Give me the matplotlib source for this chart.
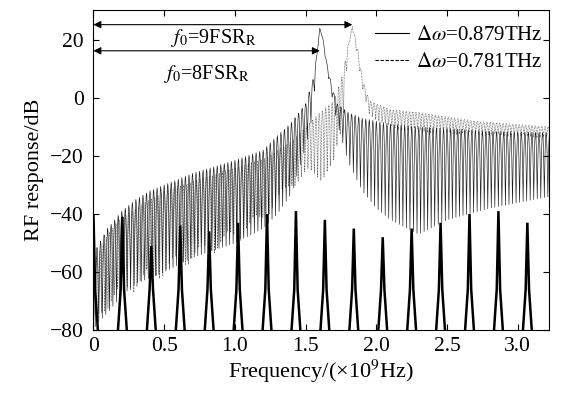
import numpy as np
import matplotlib
matplotlib.use('Agg')
import matplotlib.pyplot as plt
from matplotlib.lines import Line2D

plt.rcParams['font.family'] = ['Liberation Serif', 'DejaVu Serif']
plt.rcParams['mathtext.fontset'] = 'stix'

# envelope of the comb response, delta_omega = 0.879 THz (solid)
solid_f = [0.0, 0.02, 0.1, 0.2, 0.3, 0.4, 0.5, 0.7, 1.0, 1.2, 1.3, 1.4, 1.5, 1.55, 1.58, 1.6,
           1.62, 1.65, 1.68, 1.72, 1.8, 1.9, 2.0, 2.1, 2.3, 2.5, 2.8, 3.22]
solid_top = [-56, -52, -45, -39, -35, -32, -30, -26, -21.5, -18, -13, -8.5, -2, 6, 15, 24,
             21, 12, 5, -2, -5, -7, -8, -9, -10, -10.5, -11.5, -12]
solid_bot = [-80, -78, -74, -68, -64, -62, -60, -55, -50, -45, -40, -33, -17, -6, 14, 24,
             20, 10, 2, -8, -22, -32, -38, -42, -47, -42, -38, -34]

# envelope of the comb response, delta_omega = 0.781 THz (dotted)
dot_f = [0.0, 0.1, 0.2, 0.5, 1.0, 1.2, 1.4, 1.5, 1.6, 1.7, 1.76, 1.8, 1.83,
         1.86, 1.9, 1.95, 2.1, 2.3, 2.7, 3.22]
dot_top = [-57, -47, -41, -32, -24, -21, -15, -10, -5, -1, 8, 18, 24.5,
           19, 7, -1, -4, -5, -8, -10]
dot_bot = [-80, -73, -69, -62, -50, -43, -31, -28, -29, -26, -12, 16, 24.5,
           15, 3, -6, -11, -12, -13, -14]

solid_period = 0.025
dot_period = 0.0228

# narrow spikes at the FSR grid
spike_f = [0.0, 0.2045, 0.409, 0.6135, 0.818, 1.0225, 1.227, 1.4315,
           1.636, 1.8405, 2.045, 2.2495, 2.454, 2.6585, 2.863, 3.0675]
spike_top = [-40, -41, -51, -44, -46, -43, -40, -39,
             -42, -45, -48, -45, -43, -40, -39, -43]
spike_dx = [-0.034, -0.012, 0.0, 0.012, 0.034]
spike_lvl = [-82, -66, None, -66, -82]

arrow_ends = [1.83, 1.60]
arrow_y = [25.2, 16.2]

xticks = [0, 0.5, 1.0, 1.5, 2.0, 2.5, 3.0]
xticklabels = ['0', '0.5', '1.0', '1.5', '2.0', '2.5', '3.0']
yticks = [-80, -60, -40, -20, 0, 20]


def comb(fk, top, bot, period):
    f = np.arange(0, 3.225, 0.0025)
    up = np.interp(f, fk, top)
    lo = np.interp(f, fk, bot)
    ph = (f / period) % 1.0
    tri = np.abs(2 * ph - 1)
    return f, up - (up - lo) * (1 - tri) ** 2


fig = plt.figure(figsize=(5.63, 3.94), dpi=100)
ax = fig.add_axes([0.166, 0.162, 0.809, 0.813])

f1, y1 = comb(dot_f, dot_top, dot_bot, dot_period)
ax.plot(f1, y1, color='0.35', lw=0.55, ls=(0, (1, 1)))
f2, y2 = comb(solid_f, solid_top, solid_bot, solid_period)
ax.plot(f2, y2, color='0.1', lw=0.45)

for c, t in zip(spike_f, spike_top):
    xs = [c + d for d in spike_dx]
    ys = [t if v is None else v for v in spike_lvl]
    ax.plot(xs, ys, color='k', lw=1.8, solid_joinstyle='miter')

for xe, ya in zip(arrow_ends, arrow_y):
    ax.annotate('', xy=(0, ya), xytext=(xe, ya),
                arrowprops=dict(arrowstyle='<|-|>', color='k', lw=0.8,
                                shrinkA=0, shrinkB=0, mutation_scale=11))

ax.text(0.85, 20.6, r'$f_0$=9FSR$_\mathrm{R}$', fontsize=14.5, ha='center', va='center')
ax.text(0.80, 8.3, r'$f_0$=8FSR$_\mathrm{R}$', fontsize=14.5, ha='center', va='center')

handles = [Line2D([], [], color='k', lw=0.8),
           Line2D([], [], color='k', lw=0.8, ls=(0, (3, 1.5)))]
ax.legend(handles, [r'$\Delta\omega$=0.879THz', r'$\Delta\omega$=0.781THz'],
          loc='upper right', bbox_to_anchor=(0.995, 0.963), frameon=False,
          fontsize=15, handlelength=1.6, handletextpad=0.35, labelspacing=0.35,
          borderpad=0.1, borderaxespad=0.1)

ax.set_xlim(0, 3.22)
ax.set_ylim(-80, 30.3)
ax.set_xticks(xticks)
ax.set_xticklabels(xticklabels)
ax.set_yticks(yticks)
ax.tick_params(direction='in', top=True, right=True, labelsize=15.5, length=4, width=0.8)
ax.tick_params(axis='x', pad=5)
ax.tick_params(axis='y', pad=7)
for s in ax.spines.values():
    s.set_linewidth(0.8)

ax.set_xlabel(r'Frequency/(×10$^9$Hz)', fontsize=16, labelpad=1)
ax.set_ylabel('RF response/dB', fontsize=16, labelpad=4)

fig.savefig('out.png', dpi=100)
